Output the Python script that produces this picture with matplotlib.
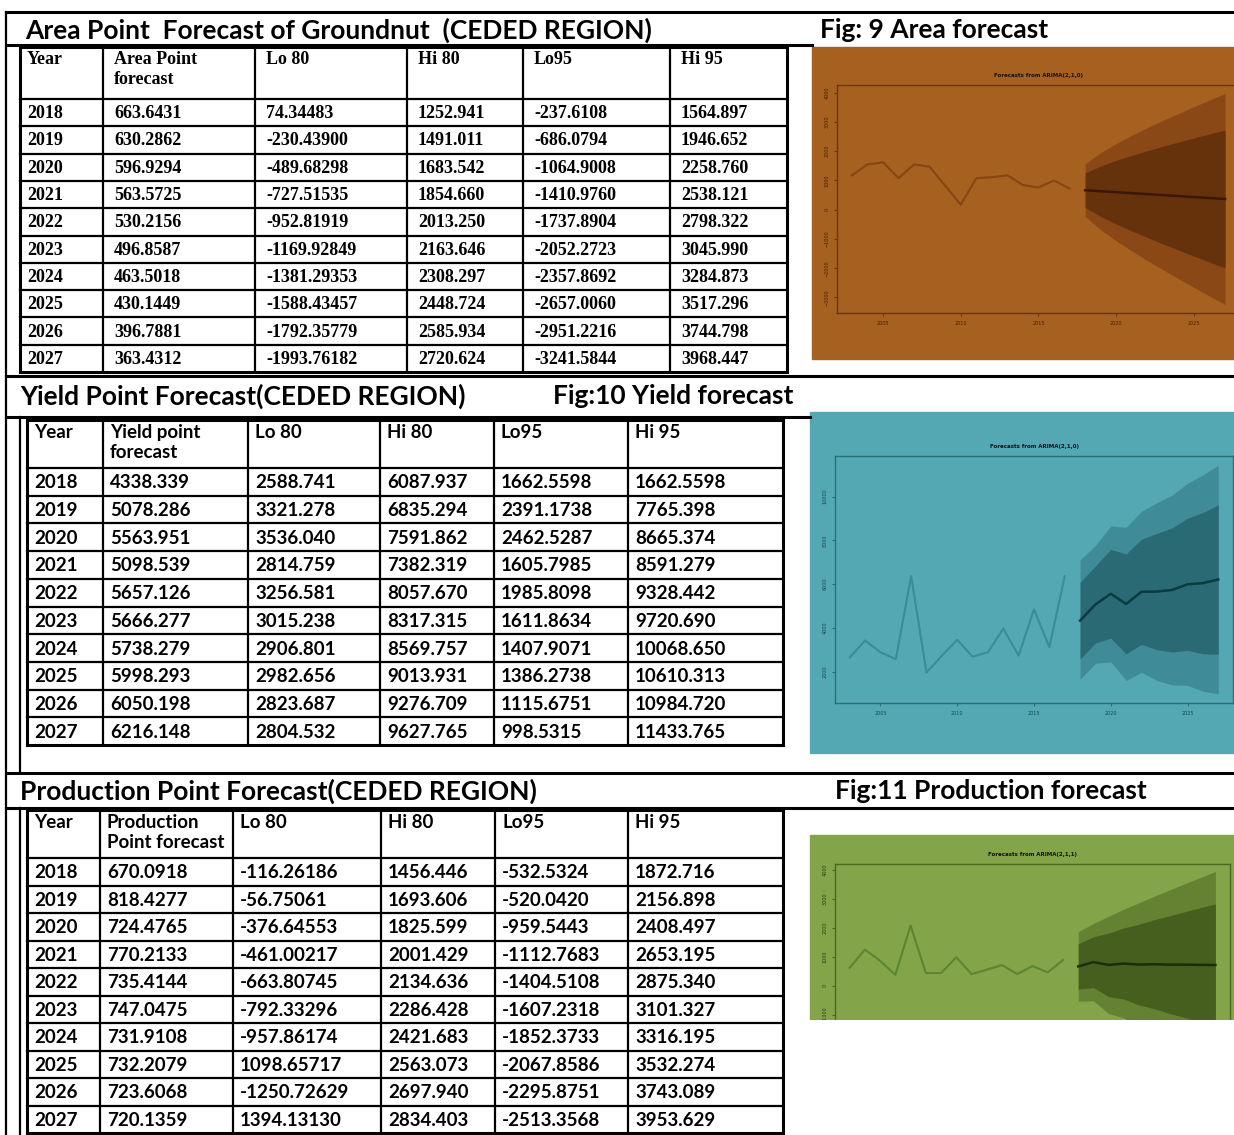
import matplotlib.pyplot as plt
from matplotlib.patches import Rectangle

# ---- table data (as printed in the document) ----
years = ['2018', '2019', '2020', '2021', '2022', '2023', '2024', '2025', '2026', '2027']

area_point = ['663.6431', '630.2862', '596.9294', '563.5725', '530.2156', '496.8587', '463.5018', '430.1449', '396.7881', '363.4312']
area_lo80 = ['74.34483', '-230.43900', '-489.68298', '-727.51535', '-952.81919', '-1169.92849', '-1381.29353', '-1588.43457', '-1792.35779', '-1993.76182']
area_hi80 = ['1252.941', '1491.011', '1683.542', '1854.660', '2013.250', '2163.646', '2308.297', '2448.724', '2585.934', '2720.624']
area_lo95 = ['-237.6108', '-686.0794', '-1064.9008', '-1410.9760', '-1737.8904', '-2052.2723', '-2357.8692', '-2657.0060', '-2951.2216', '-3241.5844']
area_hi95 = ['1564.897', '1946.652', '2258.760', '2538.121', '2798.322', '3045.990', '3284.873', '3517.296', '3744.798', '3968.447']

yield_point = ['4338.339', '5078.286', '5563.951', '5098.539', '5657.126', '5666.277', '5738.279', '5998.293', '6050.198', '6216.148']
yield_lo80 = ['2588.741', '3321.278', '3536.040', '2814.759', '3256.581', '3015.238', '2906.801', '2982.656', '2823.687', '2804.532']
yield_hi80 = ['6087.937', '6835.294', '7591.862', '7382.319', '8057.670', '8317.315', '8569.757', '9013.931', '9276.709', '9627.765']
yield_lo95 = ['1662.5598', '2391.1738', '2462.5287', '1605.7985', '1985.8098', '1611.8634', '1407.9071', '1386.2738', '1115.6751', '998.5315']
yield_hi95 = ['1662.5598', '7765.398', '8665.374', '8591.279', '9328.442', '9720.690', '10068.650', '10610.313', '10984.720', '11433.765']

prod_point = ['670.0918', '818.4277', '724.4765', '770.2133', '735.4144', '747.0475', '731.9108', '732.2079', '723.6068', '720.1359']
prod_lo80 = ['-116.26186', '-56.75061', '-376.64553', '-461.00217', '-663.80745', '-792.33296', '-957.86174', '1098.65717', '-1250.72629', '1394.13130']
prod_hi80 = ['1456.446', '1693.606', '1825.599', '2001.429', '2134.636', '2286.428', '2421.683', '2563.073', '2697.940', '2834.403']
prod_lo95 = ['-532.5324', '-520.0420', '-959.5443', '-1112.7683', '-1404.5108', '-1607.2318', '-1852.3733', '-2067.8586', '-2295.8751', '-2513.3568']
prod_hi95 = ['1872.716', '2156.898', '2408.497', '2653.195', '2875.340', '3101.327', '3316.195', '3532.274', '3743.089', '3953.629']

# ---- past series ----
hist_years = [2003, 2004, 2005, 2006, 2007, 2008, 2009, 2010, 2011, 2012, 2013, 2014, 2015, 2016, 2017]
area_hist = [1170, 1545, 1615, 1075, 1545, 1465, 815, 170, 1075, 1110, 1170, 840, 755, 995, 720]
yield_hist = [2660, 3435, 2895, 2585, 6370, 1970, 2740, 3465, 2695, 2895, 3975, 2740, 4855, 3125, 6370]
prod_hist = [620, 1255, 865, 380, 2085, 440, 440, 990, 405, 560, 720, 405, 685, 465, 890]

W, H = 1234, 1135
fig = plt.figure(figsize=(W / 100, H / 100), dpi=100)
ax = fig.add_axes([0, 0, 1, 1])
ax.set_xlim(0, W)
ax.set_ylim(H, 0)
ax.axis('off')

SANS = 'Lato'
SERIF = 'Liberation Serif'
TITLE = 19


def line(x0, y0, x1, y1, lw=1.5):
    ax.plot([x0, x1], [y0, y1], color='black', lw=lw, solid_capstyle='projecting')


def draw_table(cols, top, head_h, bottom, headers, data, font, size, off):
    head_b = top + head_h
    row_h = (bottom - head_b) / len(years)
    line(cols[0], top, cols[-1], top, 2.2)
    line(cols[0], bottom, cols[-1], bottom, 2.2)
    line(cols[0], head_b, cols[-1], head_b, 1.6)
    for i in range(1, len(years)):
        y = head_b + i * row_h
        line(cols[0], y, cols[-1], y, 1.6)
    for j, x in enumerate(cols):
        line(x, top, x, bottom, 2.2 if j in (0, len(cols) - 1) else 1.6)
    for j, h in enumerate(headers):
        dx = 7 if j == 0 else off
        t = ax.text(cols[j] + dx, top + 4, h, ha='left', va='top', fontsize=size,
                    fontweight='bold', family=font, linespacing=1.2)
        # long header text is cut at the cell border, as in the document
        t.set_clip_path(Rectangle((cols[j], top), cols[j + 1] - cols[j] - 1, head_h,
                                  transform=ax.transData))
    for j, col in enumerate(data):
        dx = 7 if j == 0 else off
        for i, v in enumerate(col):
            ax.text(cols[j] + dx, head_b + (i + 0.5) * row_h + 1, v, ha='left', va='center',
                    fontsize=size, fontweight='bold', family=font)


def forecast_panel(panel, box, hist, point, lo80, hi80, lo95, hi95, c, title):
    px, py, pw, ph = panel
    ax.add_patch(Rectangle((px, py), pw, ph, color=c['bg'], zorder=0))
    x0, y0, x1, y1 = box
    a = fig.add_axes([x0 / W, 1 - y1 / H, (x1 - x0) / W, (y1 - y0) / H])
    a.patch.set_alpha(0)
    fy = [int(y) for y in years]
    a.fill_between(fy, lo95, hi95, color=c['f95'], lw=0)
    a.fill_between(fy, lo80, hi80, color=c['f80'], lw=0)
    a.plot(hist_years, hist, color=c['hist'], lw=1.5)
    a.plot(fy, point, color=c['mean'], lw=1.8)
    lo = min(min(hist), min(lo95))
    hi = max(max(hist), max(hi95))
    pad = 0.04 * (hi - lo)
    a.set_ylim(lo - pad, hi + pad)
    a.set_xlim(2003 - 0.96, 2027 + 0.96)
    a.set_xticks([2005, 2010, 2015, 2020, 2025])
    for s in a.spines.values():
        s.set_color(c['axis'])
        s.set_linewidth(1.0)
    a.tick_params(colors=c['axis'], labelcolor=c['text'], labelsize=3.5, length=2, width=0.8)
    for t in a.get_yticklabels():
        t.set_rotation(90)
        t.set_va('center')
    a.set_title(title, fontsize=4, fontweight='bold', color='#111111', pad=6)
    return a


# ---- outer frame ----
line(6, 12, W, 12, 2.2)
line(6, 12, 6, H, 1.6)

# ---- area section ----
ax.text(25, 30, 'Area Point  Forecast of Groundnut  (CEDED REGION)', fontsize=TITLE,
        fontweight='bold', family=SANS, va='center')
ax.text(820, 30, 'Fig: 9 Area forecast', fontsize=TITLE, fontweight='bold', family=SANS, va='center')
line(6, 45, 812, 45, 2.2)
draw_table([20, 103, 255, 407, 523, 670, 787], 47, 52, 372,
           ['Year', 'Area Point\nforecast', 'Lo 80', 'Hi 80', 'Lo95', 'Hi 95'],
           [years, area_point, area_lo80, area_hi80, area_lo95, area_hi95], SERIF, 13, 11)
forecast_panel((812, 47, 422, 312), (837, 85, 1240, 313), area_hist,
               [float(v) for v in area_point], [float(v) for v in area_lo80],
               [float(v) for v in area_hi80], [float(v) for v in area_lo95],
               [float(v) for v in area_hi95],
               dict(bg='#a66020', f95='#8a4816', f80='#66320c', mean='#3a1805',
                    hist='#874512', axis='#6a3510', text='#4a2006'),
               'Forecasts from ARIMA(2,1,0)')

# ---- yield section ----
line(6, 376, W, 376, 2.2)
ax.text(20, 396, 'Yield Point Forecast(CEDED REGION)', fontsize=TITLE,
        fontweight='bold', family=SANS, va='center')
ax.text(553, 396, 'Fig:10 Yield forecast', fontsize=TITLE, fontweight='bold', family=SANS, va='center')
line(6, 417, 810, 417, 2.2)
line(20, 417, 20, 773, 1.6)
draw_table([27, 103, 248, 380, 494, 628, 783], 420, 48, 745,
           ['Year', 'Yield point\nforecast', 'Lo 80', 'Hi 80', 'Lo95', 'Hi 95'],
           [years, yield_point, yield_lo80, yield_hi80, yield_lo95, yield_hi95], SANS, 13.5, 7)
# the printed Hi 95 for 2018 repeats Lo95; the plotted band sits near 7100
yield_hi95_fig = [7110.0] + [float(v) for v in yield_hi95[1:]]
forecast_panel((810, 412, 424, 341), (835, 456, 1233, 703), yield_hist,
               [float(v) for v in yield_point], [float(v) for v in yield_lo80],
               [float(v) for v in yield_hi80], [float(v) for v in yield_lo95],
               yield_hi95_fig,
               dict(bg='#53a8b4', f95='#3f8c98', f80='#2a6a74', mean='#0b3a40',
                    hist='#3a8c97', axis='#2a6f78', text='#184a50'),
               'Forecasts from ARIMA(2,1,0)')

# ---- production section ----
line(6, 773, W, 773, 2.2)
ax.text(20, 791, 'Production Point Forecast(CEDED REGION)', fontsize=TITLE,
        fontweight='bold', family=SANS, va='center')
ax.text(835, 791, 'Fig:11 Production forecast', fontsize=TITLE, fontweight='bold', family=SANS, va='center')
line(6, 808, W, 808, 2.2)
line(20, 808, 20, H, 1.6)
draw_table([27, 100, 233, 381, 495, 628, 783], 810, 48, 1133,
           ['Year', 'Production\nPoint forecast', 'Lo 80', 'Hi 80', 'Lo95', 'Hi 95'],
           [years, prod_point, prod_lo80, prod_hi80, prod_lo95, prod_hi95], SANS, 13.5, 7)
# minus signs dropped in two printed Lo 80 cells; the plotted band is below zero
prod_lo80_fig = [-abs(float(v)) for v in prod_lo80]
forecast_panel((810, 835, 424, 185), (835, 864, 1230, 1066), prod_hist,
               [float(v) for v in prod_point], prod_lo80_fig,
               [float(v) for v in prod_hi80], [float(v) for v in prod_lo95],
               [float(v) for v in prod_hi95],
               dict(bg='#84a449', f95='#648232', f80='#465f1e', mean='#1c2e06',
                    hist='#5e8430', axis='#4a6a20', text='#2c4010'),
               'Forecasts from ARIMA(2,1,1)')

# the production picture is cropped at its lower edge in the document
cover = fig.add_axes([800 / W, 0, (W - 800) / W, (H - 1020) / H])
cover.set_facecolor('white')
cover.set_xticks([])
cover.set_yticks([])
for s in cover.spines.values():
    s.set_visible(False)

fig.savefig('out.png', dpi=100)
